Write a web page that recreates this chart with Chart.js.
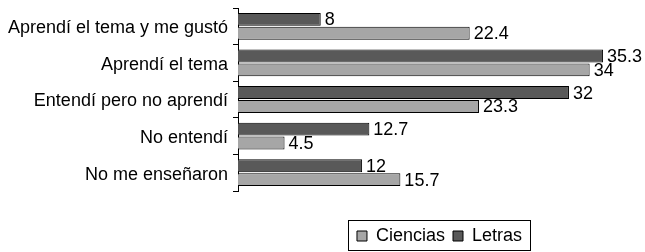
<!DOCTYPE html>
<html>
<head>
<meta charset="utf-8">
<script src="https://cdn.jsdelivr.net/npm/chart.js@4"></script>
<style>
  html, body { margin: 0; padding: 0; background: #fff; }
  #wrap { width: 645px; height: 252px; }
</style>
</head>
<body>
<div id="wrap"><canvas id="myChart" width="645" height="252"></canvas></div>
<script>
// categories and values
const categories = ["Aprendí el tema y me gustó", "Aprendí el tema", "Entendí pero no aprendí", "No entendí", "No me enseñaron"];
const ciencias = [22.4, 34, 23.3, 4.5, 15.7];
const letras = [8, 35.3, 32, 12.7, 12];

const FONT = "'Liberation Sans', Arial, sans-serif";

// value labels next to each bar
const barLabels = {
    id: 'barLabels',
    afterDatasetsDraw(chart) {
        const ctx = chart.ctx;
        ctx.save();
        ctx.font = "18px " + FONT;
        ctx.fillStyle = "#000";
        ctx.textAlign = "left";
        ctx.textBaseline = "middle";
        chart.data.datasets.forEach((ds, i) => {
            chart.getDatasetMeta(i).data.forEach((bar, j) => {
                ctx.fillText(String(ds.data[j]), bar.x + 4, bar.y + 1);
            });
        });
        ctx.restore();
    }
};

// move legend under the plot centre and put a box round it
const legendBox = {
    id: 'legendBox',
    afterLayout(chart) {
        const lg = chart.legend;
        lg.left += 124;
        lg.right += 124;
        lg.top += 3;
        lg.bottom += 3;
    },
    afterDraw(chart) {
        const boxes = chart.legend.legendHitBoxes;
        if (!boxes || !boxes.length) return;
        const first = boxes[0], last = boxes[boxes.length - 1];
        const ctx = chart.ctx;
        ctx.save();
        ctx.strokeStyle = "#000";
        ctx.lineWidth = 1;
        ctx.strokeRect(Math.round(first.left - 9) + 0.5, 220.5,
            Math.round(last.left + last.width - first.left + 17), 30);
        ctx.restore();
    }
};

const ctx = document.getElementById('myChart');
const chart = new Chart(ctx, {
    type: 'bar',
    data: {
        labels: categories,
        datasets: [{
            label: 'Letras',
            data: letras,
            backgroundColor: '#595959',
            borderColor: '#000',
            borderWidth: 1,
            categoryPercentage: 0.76,
            barPercentage: 0.93
        }, {
            label: 'Ciencias',
            data: ciencias,
            backgroundColor: '#a6a6a6',
            borderColor: '#000',
            borderWidth: 1,
            categoryPercentage: 0.76,
            barPercentage: 0.93
        }]
    },
    options: {
        indexAxis: 'y',
        responsive: false,
        animation: false,
        layout: { padding: { top: 8, right: 14, bottom: 0, left: 0 } },
        scales: {
            x: {
                min: 0,
                max: 38,
                grid: { display: false },
                border: { display: false },
                ticks: { display: false },
                afterFit: s => { s.height = 25; }
            },
            y: {
                grid: {
                    drawOnChartArea: false,
                    tickLength: 5,
                    color: '#000'
                },
                border: { color: '#000', width: 1 },
                ticks: {
                    color: '#000',
                    padding: 5,
                    labelOffset: 2,
                    font: { family: FONT, size: 18 }
                },
                afterFit: s => {
                    s.width = 238;
                    s.paddingTop = 0;
                    s.paddingBottom = 0;
                }
            }
        },
        plugins: {
            tooltip: { enabled: false },
            legend: {
                position: 'bottom',
                reverse: true,
                labels: {
                    color: '#000',
                    boxWidth: 10,
                    boxHeight: 10,
                    padding: 8,
                    font: { family: FONT, size: 18 }
                }
            }
        }
    },
    plugins: [barLabels, legendBox]
});
</script>
</body>
</html>
